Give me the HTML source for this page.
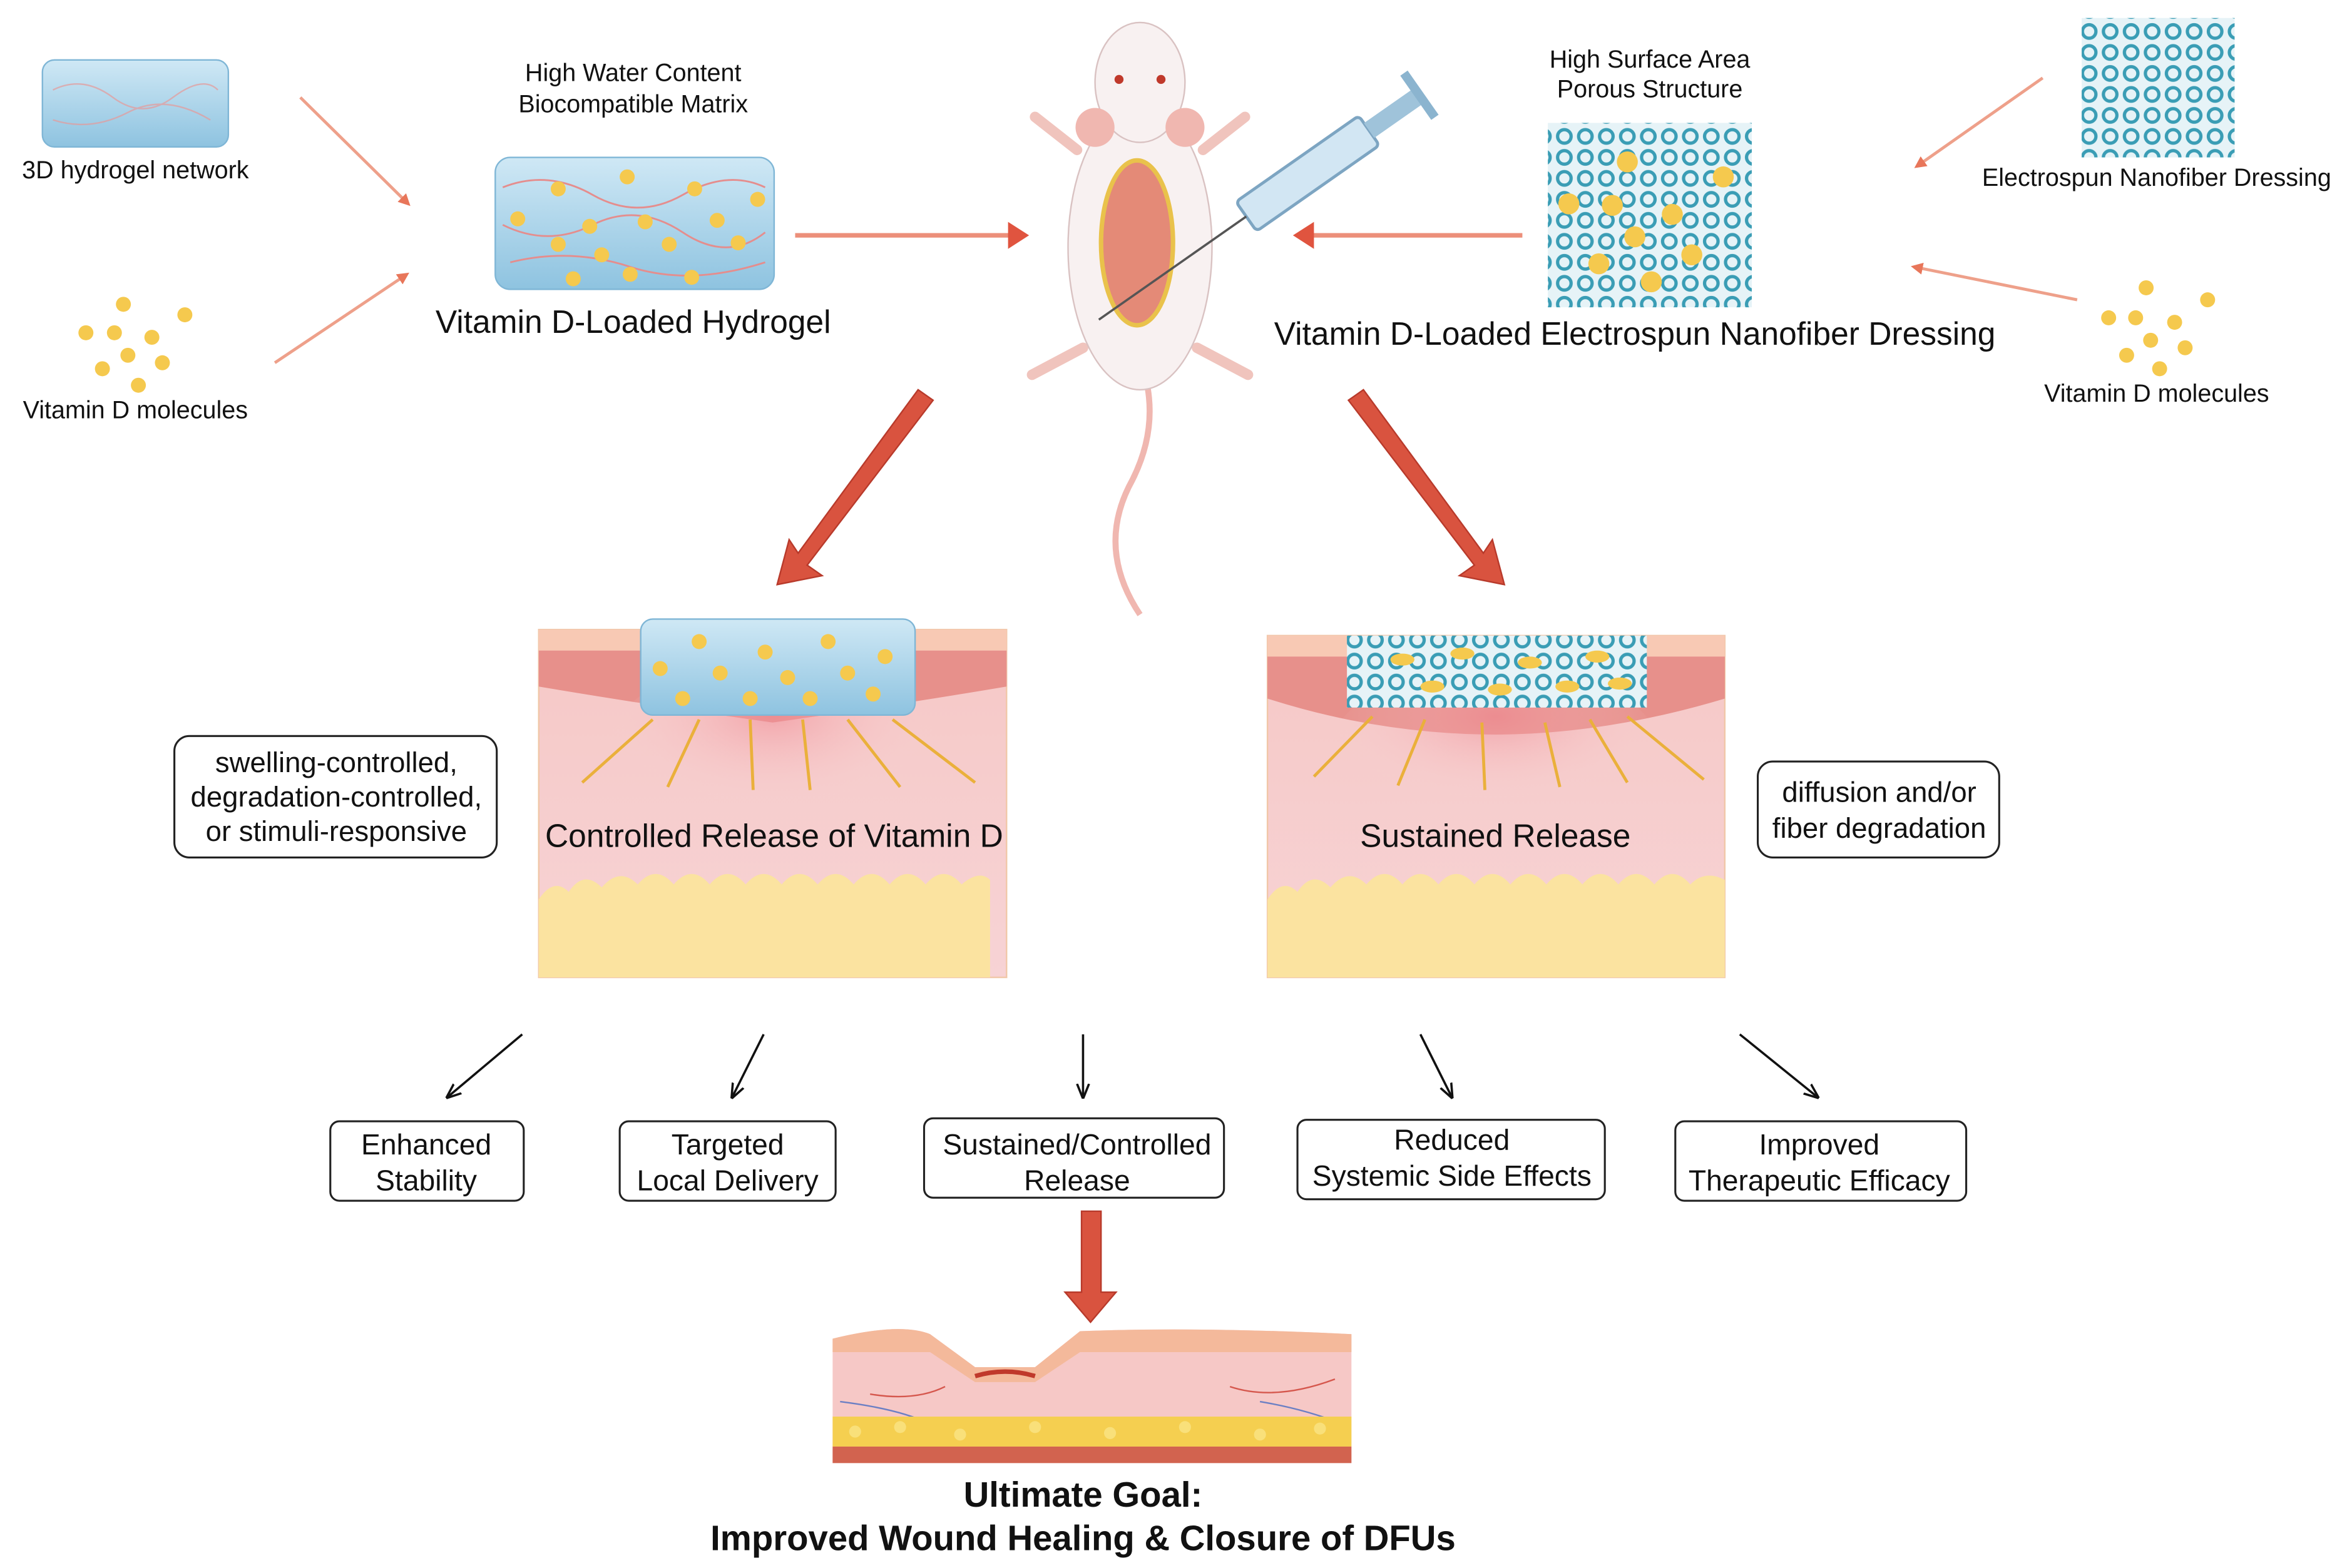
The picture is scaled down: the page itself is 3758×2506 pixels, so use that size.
<!DOCTYPE html>
<html><head><meta charset="utf-8"><style>
html,body{margin:0;padding:0;background:#fff}
svg{display:block}
text{font-family:"Liberation Sans",sans-serif;fill:#111}
</style></head><body>
<svg width="3758" height="2506" viewBox="0 0 1568 1046" xmlns="http://www.w3.org/2000/svg">
<defs>
<marker id="oa" markerWidth="8" markerHeight="8" refX="6" refY="4" orient="auto" markerUnits="userSpaceOnUse"><path d="M0,0 L8,4 L0,8 z" fill="#e8765a"/></marker>
<marker id="ka" markerWidth="10" markerHeight="10" refX="9" refY="5" orient="auto" markerUnits="userSpaceOnUse"><path d="M0,1 L10,5 L0,9" fill="none" stroke="#111" stroke-width="1.5"/></marker>
<linearGradient id="gel" x1="0" y1="0" x2="0" y2="1"><stop offset="0" stop-color="#cfe8f5"/><stop offset="1" stop-color="#8ec3e0"/></linearGradient>
<linearGradient id="skin" x1="0" y1="0" x2="0" y2="1"><stop offset="0" stop-color="#f6c8c6"/><stop offset="1" stop-color="#f7d3d5"/></linearGradient>
<radialGradient id="glow" cx="0.5" cy="0.3" r="0.5"><stop offset="0" stop-color="#f08a94" stop-opacity="0.6"/><stop offset="1" stop-color="#f7d3d5" stop-opacity="0"/></radialGradient>
<pattern id="fib" width="14" height="14" patternUnits="userSpaceOnUse"><rect width="14" height="14" fill="#e6f3f7"/><circle cx="7" cy="7" r="4.5" fill="none" stroke="#3a9db5" stroke-width="2.2"/></pattern>
</defs>

<rect x="28" y="40" width="124" height="58" rx="8" fill="url(#gel)" stroke="#7fb6d6"/>
<path d="M35,60 q20,-10 40,5 t40,0 t30,-5 M35,80 q25,8 50,-5 t55,5" stroke="#e59a9a" fill="none" opacity="0.7"/>
<text x="90" y="119" font-size="16.5" text-anchor="middle">3D hydrogel network</text>
<g fill="#f5c94e"><circle cx="82" cy="203" r="5"/><circle cx="123" cy="210" r="5"/><circle cx="57" cy="222" r="5"/><circle cx="76" cy="222" r="5"/><circle cx="101" cy="225" r="5"/><circle cx="85" cy="237" r="5"/><circle cx="68" cy="246" r="5"/><circle cx="108" cy="242" r="5"/><circle cx="92" cy="257" r="5"/></g>
<text x="90" y="279" font-size="16.5" text-anchor="middle">Vitamin D molecules</text>
<line x1="200" y1="65" x2="272" y2="136" stroke="#eea08a" stroke-width="2" marker-end="url(#oa)"/>
<line x1="183" y1="242" x2="271" y2="183" stroke="#eea08a" stroke-width="2" marker-end="url(#oa)"/>

<text x="422" y="54" font-size="16.5" text-anchor="middle">High Water Content</text>
<text x="422" y="75" font-size="16.5" text-anchor="middle">Biocompatible Matrix</text>
<rect x="330" y="105" width="186" height="88" rx="10" fill="url(#gel)" stroke="#7fb6d6"/>
<path d="M335,125 q30,-12 60,5 t60,0 t55,-5 M335,150 q30,15 60,0 t60,5 t55,0 M340,175 q40,-10 80,3 t90,-3" stroke="#e58d8d" fill="none" stroke-width="1.2"/>
<g fill="#f5c94e"><circle cx="372" cy="126" r="5"/><circle cx="418" cy="118" r="5"/><circle cx="463" cy="126" r="5"/><circle cx="505" cy="133" r="5"/><circle cx="345" cy="146" r="5"/><circle cx="393" cy="151" r="5"/><circle cx="430" cy="148" r="5"/><circle cx="478" cy="147" r="5"/><circle cx="372" cy="163" r="5"/><circle cx="401" cy="170" r="5"/><circle cx="446" cy="163" r="5"/><circle cx="492" cy="162" r="5"/><circle cx="382" cy="186" r="5"/><circle cx="461" cy="185" r="5"/><circle cx="420" cy="183" r="5"/></g>
<text x="422" y="222" font-size="21.5" text-anchor="middle">Vitamin D-Loaded Hydrogel</text>
<line x1="530" y1="157" x2="678" y2="157" stroke="#ec8f7a" stroke-width="3"/>
<path d="M672,148 L686,157 L672,166 z" fill="#e0543f"/>

<!-- mouse -->
<path d="M760,240 q15,40 -5,80 q-25,45 5,90" stroke="#f0b7b0" stroke-width="4" fill="none"/>
<path d="M718,100 L690,78 M802,100 L830,78 M722,232 L688,250 M798,232 L832,250" stroke="#f0c4bd" stroke-width="7" stroke-linecap="round"/>
<ellipse cx="760" cy="165" rx="48" ry="95" fill="#f8f1f1" stroke="#d9c2c2"/>
<ellipse cx="760" cy="55" rx="30" ry="40" fill="#f8f1f1" stroke="#d9c2c2"/>
<ellipse cx="730" cy="85" rx="13" ry="13" fill="#f0b7b0"/><ellipse cx="790" cy="85" rx="13" ry="13" fill="#f0b7b0"/>
<circle cx="746" cy="53" r="3" fill="#c0392b"/><circle cx="774" cy="53" r="3" fill="#c0392b"/>
<ellipse cx="758" cy="162" rx="24" ry="55" fill="#e48a77" stroke="#e9c24b" stroke-width="3"/>
<g transform="rotate(-35 880 110)">
<rect x="820" y="98" width="100" height="24" rx="3" fill="#d2e6f3" stroke="#7da5c2" stroke-width="2"/>
<rect x="920" y="104" width="40" height="12" fill="#9fc3da"/>
<rect x="958" y="92" width="6" height="36" fill="#8bb4cf"/>
<line x1="700" y1="110" x2="820" y2="110" stroke="#555" stroke-width="1.5"/>
</g>

<text x="1100" y="45" font-size="16.5" text-anchor="middle">High Surface Area</text>
<text x="1100" y="65" font-size="16.5" text-anchor="middle">Porous Structure</text>
<rect x="1032" y="82" width="136" height="123" fill="url(#fib)"/>
<g fill="#f5c94e"><circle cx="1085" cy="108" r="7"/><circle cx="1149" cy="118" r="7"/><circle cx="1046" cy="136" r="7"/><circle cx="1075" cy="137" r="7"/><circle cx="1115" cy="143" r="7"/><circle cx="1090" cy="158" r="7"/><circle cx="1128" cy="170" r="7"/><circle cx="1066" cy="176" r="7"/><circle cx="1101" cy="188" r="7"/></g>
<text x="1090" y="230" font-size="21.5" text-anchor="middle">Vitamin D-Loaded Electrospun Nanofiber Dressing</text>
<line x1="1015" y1="157" x2="870" y2="157" stroke="#ec8f7a" stroke-width="3"/>
<path d="M876,148 L862,157 L876,166 z" fill="#e0543f"/>

<rect x="1388" y="12" width="102" height="93" fill="url(#fib)"/>
<text x="1438" y="124" font-size="16.5" text-anchor="middle">Electrospun Nanofiber Dressing</text>
<g fill="#f5c94e"><circle cx="1431" cy="192" r="5"/><circle cx="1472" cy="200" r="5"/><circle cx="1406" cy="212" r="5"/><circle cx="1424" cy="212" r="5"/><circle cx="1450" cy="215" r="5"/><circle cx="1434" cy="227" r="5"/><circle cx="1457" cy="232" r="5"/><circle cx="1418" cy="237" r="5"/><circle cx="1440" cy="246" r="5"/></g>
<text x="1438" y="268" font-size="16.5" text-anchor="middle">Vitamin D molecules</text>
<line x1="1362" y1="52" x2="1278" y2="111" stroke="#eea08a" stroke-width="2" marker-end="url(#oa)"/>
<line x1="1385" y1="200" x2="1276" y2="178" stroke="#eea08a" stroke-width="2" marker-end="url(#oa)"/>

<g fill="#d9533f" stroke="#b83a2b" stroke-width="1">
<path d="M612,260 L622,267 L538,377 L548,384 L518,390 L526,360 L532,369 L612,260 z"/>
<path d="M909,260 L899,267 L983,377 L973,384 L1003,390 L995,360 L989,369 L909,260 z"/>
</g>

<rect x="359" y="420" width="312" height="232" fill="url(#skin)" stroke="#f1c7a8"/>
<rect x="359" y="420" width="312" height="14" fill="#f8c9b4"/>
<path d="M359,434 H671 V458 Q600,470 515,482 Q430,470 359,458 z" fill="#e7908b"/>
<ellipse cx="515" cy="500" rx="110" ry="60" fill="url(#glow)"/>
<path d="M359,600 q10,-15 20,-5 q10,-15 22,-3 q12,-14 24,-2 q12,-14 24,0 q12,-14 24,0 q12,-14 24,0 q12,-14 24,0 q12,-14 24,0 q12,-14 24,0 q12,-14 24,0 q12,-14 24,0 q12,-14 24,0 q12,-10 19,-3 V652 H359 z" fill="#fbe3a0"/>
<rect x="427" y="413" width="183" height="64" rx="8" fill="url(#gel)" stroke="#7fb6d6"/>
<g fill="#f5c94e"><circle cx="466" cy="428" r="5"/><circle cx="510" cy="435" r="5"/><circle cx="552" cy="428" r="5"/><circle cx="590" cy="438" r="5"/><circle cx="440" cy="446" r="5"/><circle cx="480" cy="449" r="5"/><circle cx="525" cy="452" r="5"/><circle cx="565" cy="449" r="5"/><circle cx="455" cy="466" r="5"/><circle cx="500" cy="466" r="5"/><circle cx="540" cy="466" r="5"/><circle cx="582" cy="463" r="5"/></g>
<g stroke="#eab03b" stroke-width="2" fill="none">
<path d="M435,480 L388,522"/><path d="M466,480 L445,525"/><path d="M500,480 L502,527"/><path d="M535,480 L540,527"/><path d="M565,480 L600,525"/><path d="M595,480 L650,522"/>
</g>
<text x="516" y="565" font-size="21.5" text-anchor="middle">Controlled Release of Vitamin D</text>

<rect x="845" y="424" width="305" height="228" fill="url(#skin)" stroke="#f1c7a8"/>
<rect x="845" y="424" width="305" height="14" fill="#f8c9b4"/>
<path d="M845,438 H1150 V466 Q1070,490 997,490 Q920,490 845,466 z" fill="#e7908b"/>
<ellipse cx="997" cy="500" rx="110" ry="55" fill="url(#glow)"/>
<path d="M845,600 q10,-15 20,-5 q10,-15 22,-3 q12,-14 24,-2 q12,-14 24,0 q12,-14 24,0 q12,-14 24,0 q12,-14 24,0 q12,-14 24,0 q12,-14 24,0 q12,-14 24,0 q12,-14 24,0 q12,-14 24,0 q10,-10 23,-3 V652 H845 z" fill="#fbe3a0"/>
<rect x="898" y="424" width="200" height="48" fill="url(#fib)"/>
<g fill="#f5c94e"><ellipse cx="935" cy="440" rx="8" ry="4"/><ellipse cx="975" cy="436" rx="8" ry="4"/><ellipse cx="1020" cy="442" rx="8" ry="4"/><ellipse cx="1065" cy="438" rx="8" ry="4"/><ellipse cx="955" cy="458" rx="8" ry="4"/><ellipse cx="1000" cy="460" rx="8" ry="4"/><ellipse cx="1045" cy="458" rx="8" ry="4"/><ellipse cx="1080" cy="456" rx="8" ry="4"/></g>
<g stroke="#eab03b" stroke-width="2" fill="none">
<path d="M915,478 L876,518"/><path d="M950,480 L932,524"/><path d="M988,482 L990,527"/><path d="M1030,482 L1040,525"/><path d="M1060,480 L1085,522"/><path d="M1085,478 L1136,520"/>
</g>
<text x="997" y="565" font-size="21.5" text-anchor="middle">Sustained Release</text>

<rect x="116" y="491" width="215" height="81" rx="10" fill="#fff" stroke="#222" stroke-width="1.3"/>
<text x="224" y="515" font-size="19" text-anchor="middle">swelling-controlled,</text>
<text x="224" y="538" font-size="19" text-anchor="middle">degradation-controlled,</text>
<text x="224" y="561" font-size="19" text-anchor="middle">or stimuli-responsive</text>
<rect x="1172" y="508" width="161" height="64" rx="10" fill="#fff" stroke="#222" stroke-width="1.3"/>
<text x="1253" y="535" font-size="19" text-anchor="middle">diffusion and/or</text>
<text x="1253" y="559" font-size="19" text-anchor="middle">fiber degradation</text>

<g stroke="#111" stroke-width="1.5" marker-end="url(#ka)">
<line x1="348" y1="690" x2="298" y2="732"/><line x1="509" y1="690" x2="488" y2="732"/><line x1="722" y1="690" x2="722" y2="732"/><line x1="947" y1="690" x2="968" y2="732"/><line x1="1160" y1="690" x2="1212" y2="732"/>
</g>

<g fill="#fff" stroke="#222" stroke-width="1.3">
<rect x="220" y="748" width="129" height="53" rx="6"/><rect x="413" y="748" width="144" height="53" rx="6"/><rect x="616" y="746" width="200" height="53" rx="6"/><rect x="865" y="747" width="205" height="53" rx="6"/><rect x="1117" y="748" width="194" height="53" rx="6"/>
</g>
<g font-size="19.3" text-anchor="middle">
<text x="284" y="770">Enhanced</text><text x="284" y="794">Stability</text>
<text x="485" y="770">Targeted</text><text x="485" y="794">Local Delivery</text>
<text x="718" y="770">Sustained/Controlled</text><text x="718" y="794">Release</text>
<text x="968" y="767">Reduced</text><text x="968" y="791">Systemic Side Effects</text>
<text x="1213" y="770">Improved</text><text x="1213" y="794">Therapeutic Efficacy</text>
</g>

<path d="M721,808 H734 V862 H744 L727,882 L710,862 H721 z" fill="#d9533f" stroke="#b83a2b"/>

<path d="M555,893 Q600,882 620,890 L650,912 H690 L720,888 Q800,885 901,890 V976 H555 z" fill="#f6c8c6"/>
<path d="M555,893 Q600,882 620,890 L650,912 H690 L720,888 Q800,885 901,890 V902 H720 L690,922 H650 L620,902 H555 z" fill="#f4b99b"/>
<path d="M650,918 q20,-6 40,0" stroke="#c0392b" stroke-width="3" fill="none"/>
<path d="M580,930 q30,5 50,-5 M820,925 q30,10 70,-5" stroke="#d5574d" fill="none"/>
<path d="M560,935 q40,5 60,15 M840,935 q30,5 55,15" stroke="#6b7fc4" fill="none"/>
<rect x="555" y="945" width="346" height="20" fill="#f5cf50"/>
<g fill="#f9e07a"><circle cx="570" cy="955" r="4"/><circle cx="600" cy="952" r="4"/><circle cx="640" cy="957" r="4"/><circle cx="690" cy="952" r="4"/><circle cx="740" cy="956" r="4"/><circle cx="790" cy="952" r="4"/><circle cx="840" cy="957" r="4"/><circle cx="880" cy="953" r="4"/></g>
<rect x="555" y="965" width="346" height="11" fill="#d2634f"/>

<text x="722" y="1005" font-size="23.5" font-weight="bold" text-anchor="middle">Ultimate Goal:</text>
<text x="722" y="1034" font-size="23.5" font-weight="bold" text-anchor="middle">Improved Wound Healing &amp; Closure of DFUs</text>
</svg>
</body></html>
